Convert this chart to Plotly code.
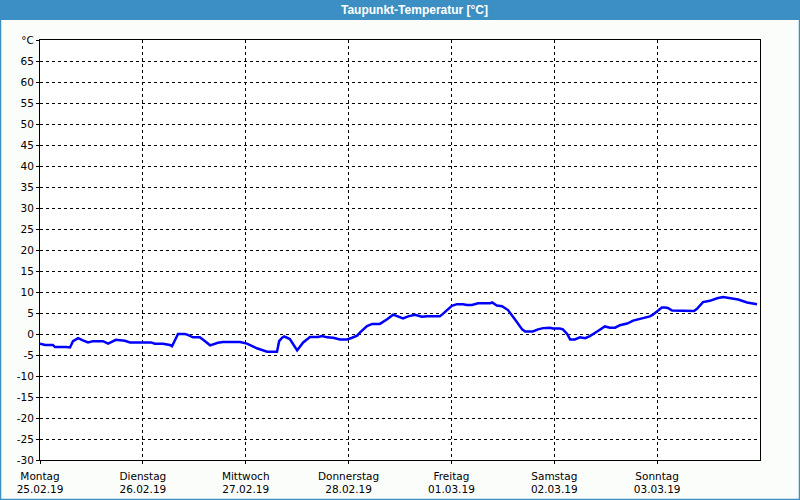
import plotly.graph_objects as go

# hours since Monday 25.02.19 00:00
hours = [0, 1.2, 3.0, 3.5, 6.1, 7.0, 7.7, 8.9, 10.0, 11.2, 12.4, 14.7, 15.9, 17.7, 19.8, 21.0,
         25.9, 26.8, 28.7, 30.3, 30.8, 31.5, 32.2, 33.8, 34.5, 35.7, 37.3, 38.0, 39.7, 41.5,
         42.7, 46.7, 48.3, 50.6, 53.0, 55.3, 55.8, 56.5, 57.0, 58.3, 60.0, 61.4, 63.0, 64.9,
         65.8, 67.0, 68.4, 70.0, 71.6, 72.8, 74.0, 74.7, 76.3, 77.5, 79.3, 81.0, 82.4, 84.7,
         85.9, 87.5, 89.1, 90.3, 93.3, 94.0, 96.1, 97.3, 98.7, 99.6, 100.8, 102.2, 105.0,
         105.5, 106.6, 107.8, 109.2, 110.8, 112.5, 113.2, 115.0, 116.2, 117.4, 119.0, 119.7,
         121.3, 122.0, 123.0, 123.7, 124.8, 126.0, 127.2, 128.3, 130.0, 131.8, 133.0, 134.2,
         135.3, 137.0, 138.4, 140.0, 141.2, 142.3, 143.0, 144.0, 145.1, 145.8, 146.5, 147.5,
         152.1, 152.6, 153.3, 154.7, 156.3, 158.0, 159.4, 161.0, 162.9, 165.0, 166.8, 167.3]
dewpoint = [-2.3, -2.6, -2.6, -3.1, -3.1, -3.2, -1.7, -1.0, -1.5, -2.0, -1.7, -1.7, -2.3, -1.4, -1.6, -2.0,
            -2.0, -2.3, -2.3, -2.6, -2.9, -1.5, 0.0, 0.0, -0.2, -0.8, -0.8, -1.3, -2.7, -2.1,
            -1.9, -1.9, -2.3, -3.4, -4.2, -4.2, -1.7, -0.9, -0.6, -1.2, -3.9, -2.0, -0.7, -0.7,
            -0.5, -0.8, -0.9, -1.3, -1.3, -0.9, -0.4, 0.4, 1.9, 2.4, 2.4, 3.5, 4.6, 3.7,
            4.2, 4.6, 4.1, 4.2, 4.2, 4.8, 6.7, 7.1, 7.1, 6.9, 6.9, 7.3, 7.3,
            7.5, 6.8, 6.6, 5.7, 3.5, 1.1, 0.6, 0.6, 1.1, 1.4, 1.5, 1.3,
            1.3, 1.1, 0.0, -1.3, -1.3, -0.8, -1.0, -0.5, 0.6, 1.8, 1.5, 1.5,
            2.1, 2.5, 3.2, 3.6, 3.9, 4.2, 4.6, 5.4, 6.3, 6.3, 6.2, 5.6,
            5.6, 5.5, 6.0, 7.6, 7.9, 8.5, 8.8, 8.5, 8.2, 7.5, 7.1, 7.1]

day_names = ["Montag", "Dienstag", "Mittwoch", "Donnerstag", "Freitag", "Samstag", "Sonntag"]
day_dates = ["25.02.19", "26.02.19", "27.02.19", "28.02.19", "01.03.19", "02.03.19", "03.03.19"]
y_ticks = list(range(-30, 70, 5))
y_unit = "°C"
title = "Taupunkt-Temperatur [°C]"

FONT = "Tahoma, DejaVu Sans, sans-serif"
BLUE_FRAME = "#3c8fc3"

fig = go.Figure()
fig.add_trace(go.Scatter(x=hours, y=dewpoint, mode="lines",
                         line=dict(color="#0000ff", width=2.5), hoverinfo="skip"))

fig.update_layout(
    width=800, height=500,
    margin=dict(l=40, r=40, t=40, b=40, autoexpand=False),
    paper_bgcolor="#fbfdfb",
    plot_bgcolor="#ffffff",
    showlegend=False,
    font=dict(family=FONT, size=10.5, color="#000000"),
)

fig.update_xaxes(
    range=[0, 168],
    tickvals=[24 * i for i in range(7)],
    ticktext=[f"{n}<br>{d}" for n, d in zip(day_names, day_dates)],
    showgrid=True, gridcolor="#000000", gridwidth=1, griddash="3px,3px",
    showline=True, linecolor="#000000", linewidth=1, mirror=True,
    ticks="outside", ticklen=3, tickcolor="#000000",
    ticklabelstandoff=3,
    zeroline=False, fixedrange=True, automargin=False,
)
fig.update_yaxes(
    range=[-30, 70],
    tickvals=y_ticks + [70],
    ticktext=[str(v) for v in y_ticks] + [y_unit],
    showgrid=True, gridcolor="#000000", gridwidth=1, griddash="3px,3px",
    showline=True, linecolor="#000000", linewidth=1, mirror=True,
    ticks="outside", ticklen=3, tickcolor="#000000",
    zeroline=False, fixedrange=True, automargin=False,
)

# window frame: title bar and blue border (paper coordinates relative to plot area)
def px_x(px):
    return (px - 40) / 720.0

def px_y(py):
    return (460 - py) / 420.0

fig.add_shape(type="rect", xref="paper", yref="paper",
              x0=px_x(0), x1=px_x(800), y0=px_y(20), y1=px_y(0),
              fillcolor=BLUE_FRAME, line=dict(width=0), layer="above")
fig.add_shape(type="line", xref="paper", yref="paper",
              x0=px_x(0.5), x1=px_x(0.5), y0=px_y(500), y1=px_y(0),
              line=dict(color=BLUE_FRAME, width=1.5))
fig.add_shape(type="line", xref="paper", yref="paper",
              x0=px_x(799.5), x1=px_x(799.5), y0=px_y(500), y1=px_y(0),
              line=dict(color=BLUE_FRAME, width=1.5))
fig.add_shape(type="line", xref="paper", yref="paper",
              x0=px_x(0), x1=px_x(800), y0=px_y(499.5), y1=px_y(499.5),
              line=dict(color=BLUE_FRAME, width=1.5))

fig.add_annotation(text=f"<b>{title}</b>", xref="paper", yref="paper",
                   x=px_x(414), y=px_y(10), showarrow=False,
                   xanchor="center", yanchor="middle",
                   font=dict(family="Liberation Sans, Arial, sans-serif", size=12, color="#ffffff"))

fig.write_html("out.html")
